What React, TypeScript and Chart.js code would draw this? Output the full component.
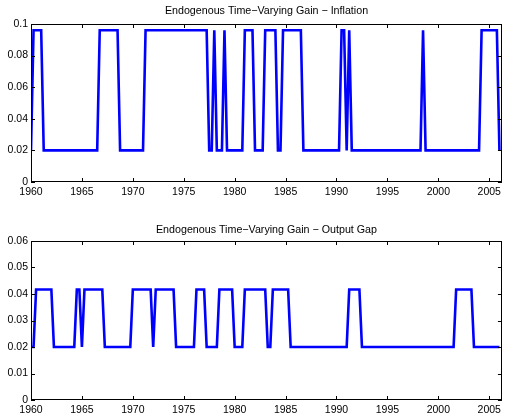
import React, { useEffect, useRef } from "react";
import { Chart, registerables } from "chart.js";

Chart.register(...registerables);

// Quarterly observations starting 1960Q1, one year per line
const START_YEAR = 1960;

const IH = 0.096; // high gain level (inflation)
const IL = 0.02; // low gain level (inflation)
const inflationGain = [
  IL, IH, IH, IH, // 1960
  IH, IL, IL, IL, // 1961
  IL, IL, IL, IL, // 1962
  IL, IL, IL, IL, // 1963
  IL, IL, IL, IL, // 1964
  IL, IL, IL, IL, // 1965
  IL, IL, IL, IH, // 1966
  IH, IH, IH, IH, // 1967
  IH, IH, IH, IL, // 1968
  IL, IL, IL, IL, // 1969
  IL, IL, IL, IL, // 1970
  IL, IH, IH, IH, // 1971
  IH, IH, IH, IH, // 1972
  IH, IH, IH, IH, // 1973
  IH, IH, IH, IH, // 1974
  IH, IH, IH, IH, // 1975
  IH, IH, IH, IH, // 1976
  IH, IH, IL, IL, // 1977
  IH, IL, IL, IL, // 1978
  IH, IL, IL, IL, // 1979
  IL, IL, IL, IL, // 1980
  IH, IH, IH, IH, // 1981
  IL, IL, IL, IL, // 1982
  IH, IH, IH, IH, // 1983
  IH, IL, IL, IH, // 1984
  IH, IH, IH, IH, // 1985
  IH, IH, IH, IL, // 1986
  IL, IL, IL, IL, // 1987
  IL, IL, IL, IL, // 1988
  IL, IL, IL, IL, // 1989
  IL, IL, IH, IH, // 1990
  IL, IH, IL, IL, // 1991
  IL, IL, IL, IL, // 1992
  IL, IL, IL, IL, // 1993
  IL, IL, IL, IL, // 1994
  IL, IL, IL, IL, // 1995
  IL, IL, IL, IL, // 1996
  IL, IL, IL, IL, // 1997
  IL, IL, IH, IL, // 1998
  IL, IL, IL, IL, // 1999
  IL, IL, IL, IL, // 2000
  IL, IL, IL, IL, // 2001
  IL, IL, IL, IL, // 2002
  IL, IL, IL, IL, // 2003
  IL, IH, IH, IH, // 2004
  IH, IH, IH, IH, // 2005
  IL, // 2006
];

const OH = 0.0417; // high gain level (output gap)
const OL = 0.02; // low gain level (output gap)
const outputGapGain = [
  OL, OL, OH, OH, // 1960
  OH, OH, OH, OH, // 1961
  OH, OL, OL, OL, // 1962
  OL, OL, OL, OL, // 1963
  OL, OL, OH, OH, // 1964
  OL, OH, OH, OH, // 1965
  OH, OH, OH, OH, // 1966
  OH, OL, OL, OL, // 1967
  OL, OL, OL, OL, // 1968
  OL, OL, OL, OL, // 1969
  OH, OH, OH, OH, // 1970
  OH, OH, OH, OH, // 1971
  OL, OH, OH, OH, // 1972
  OH, OH, OH, OH, // 1973
  OH, OL, OL, OL, // 1974
  OL, OL, OL, OL, // 1975
  OL, OH, OH, OH, // 1976
  OH, OL, OL, OL, // 1977
  OL, OL, OH, OH, // 1978
  OH, OH, OH, OH, // 1979
  OL, OL, OL, OL, // 1980
  OH, OH, OH, OH, // 1981
  OH, OH, OH, OH, // 1982
  OH, OL, OL, OH, // 1983
  OH, OH, OH, OH, // 1984
  OH, OH, OL, OL, // 1985
  OL, OL, OL, OL, // 1986
  OL, OL, OL, OL, // 1987
  OL, OL, OL, OL, // 1988
  OL, OL, OL, OL, // 1989
  OL, OL, OL, OL, // 1990
  OL, OH, OH, OH, // 1991
  OH, OH, OL, OL, // 1992
  OL, OL, OL, OL, // 1993
  OL, OL, OL, OL, // 1994
  OL, OL, OL, OL, // 1995
  OL, OL, OL, OL, // 1996
  OL, OL, OL, OL, // 1997
  OL, OL, OL, OL, // 1998
  OL, OL, OL, OL, // 1999
  OL, OL, OL, OL, // 2000
  OL, OL, OL, OH, // 2001
  OH, OH, OH, OH, // 2002
  OH, OH, OL, OL, // 2003
  OL, OL, OL, OL, // 2004
  OL, OL, OL, OL, // 2005
  OL, // 2006
];

const X_MIN = 1960;
const X_MAX = 2006.25;
const X_STEP = 5;

const titles = [
  "Endogenous Time\u2212Varying Gain \u2212 Inflation",
  "Endogenous Time\u2212Varying Gain \u2212 Output Gap",
];
const yMaxes = [0.1, 0.06];
const ySteps = [0.02, 0.01];

const FONT = "'Liberation Sans', Arial, Helvetica, sans-serif";

const boxTicks = {
  id: "boxTicks",
  afterDraw(chart: any) {
    const { ctx, chartArea: a, scales } = chart;
    const L = 4;
    ctx.save();
    ctx.strokeStyle = "#000";
    ctx.lineWidth = 1;
    ctx.beginPath();
    scales.x.ticks.forEach((t: any) => {
      const px = Math.round(scales.x.getPixelForValue(t.value)) + 0.5;
      ctx.moveTo(px, a.bottom);
      ctx.lineTo(px, a.bottom - L);
      ctx.moveTo(px, a.top);
      ctx.lineTo(px, a.top + L);
    });
    scales.y.ticks.forEach((t: any) => {
      const py = Math.round(scales.y.getPixelForValue(t.value)) + 0.5;
      ctx.moveTo(a.left, py);
      ctx.lineTo(a.left + L, py);
      ctx.moveTo(a.right, py);
      ctx.lineTo(a.right - L, py);
    });
    ctx.stroke();
    ctx.strokeRect(
      Math.round(a.left) + 0.5,
      Math.round(a.top) + 0.5,
      Math.round(a.right - a.left) - 1,
      Math.round(a.bottom - a.top) - 1
    );
    ctx.restore();
  },
};

function makeConfig(
  idx: number,
  values: number[],
  titlePad: { top: number; bottom: number },
  xHeight: number
): any {
  const points = values.map((v, i) => ({ x: START_YEAR + i / 4, y: v }));
  return {
    type: "line",
    data: {
      datasets: [
        {
          data: points,
          borderColor: "#0000ff",
          borderWidth: 2.6,
          pointRadius: 0,
          tension: 0,
          fill: false,
        },
      ],
    },
    options: {
      animation: false,
      responsive: false,
      devicePixelRatio: 1,
      layout: { padding: { left: 0, right: 1, top: 0, bottom: 0 } },
      plugins: {
        legend: { display: false },
        tooltip: { enabled: false },
        title: {
          display: true,
          text: titles[idx],
          fullSize: false,
          color: "#000",
          font: { family: FONT, size: 10.7, weight: "normal", lineHeight: 1.2 },
          padding: titlePad,
        },
      },
      scales: {
        x: {
          type: "linear",
          min: X_MIN,
          max: X_MAX,
          grid: { display: false, drawTicks: false },
          border: { display: false },
          ticks: {
            stepSize: X_STEP,
            includeBounds: false,
            autoSkip: false,
            maxRotation: 0,
            padding: 4,
            color: "#000",
            font: { family: FONT, size: 10.5 },
            callback: (v: number) => String(v),
          },
          afterFit: (s: any) => {
            s.height = xHeight;
          },
        },
        y: {
          min: 0,
          max: yMaxes[idx],
          grid: { display: false, drawTicks: false },
          border: { display: false },
          ticks: {
            stepSize: ySteps[idx],
            padding: 3,
            color: "#000",
            font: { family: FONT, size: 10.5 },
            callback: (v: number) => String(Number(v.toFixed(4))),
          },
          afterFit: (s: any) => {
            s.width = 31;
          },
        },
      },
    },
    plugins: [boxTicks],
  };
}

export default function App() {
  const topRef = useRef<HTMLCanvasElement>(null);
  const botRef = useRef<HTMLCanvasElement>(null);

  useEffect(() => {
    const c1 = new Chart(
      topRef.current as HTMLCanvasElement,
      makeConfig(0, inflationGain, { top: 4.6, bottom: 6.56 }, 18)
    );
    const c2 = new Chart(
      botRef.current as HTMLCanvasElement,
      makeConfig(1, outputGapGain, { top: 17.6, bottom: 4.56 }, 13)
    );
    return () => {
      c1.destroy();
      c2.destroy();
    };
  }, []);

  return (
    <div
      style={{
        position: "absolute",
        left: 0,
        top: 0,
        width: 505,
        height: 413,
        background: "#fff",
        overflow: "hidden",
      }}
    >
      <canvas
        ref={topRef}
        width={505}
        height={200}
        style={{ position: "absolute", left: 0, top: 0, width: 505, height: 200 }}
      />
      <canvas
        ref={botRef}
        width={505}
        height={207}
        style={{ position: "absolute", left: 0, top: 206, width: 505, height: 207 }}
      />
    </div>
  );
}
